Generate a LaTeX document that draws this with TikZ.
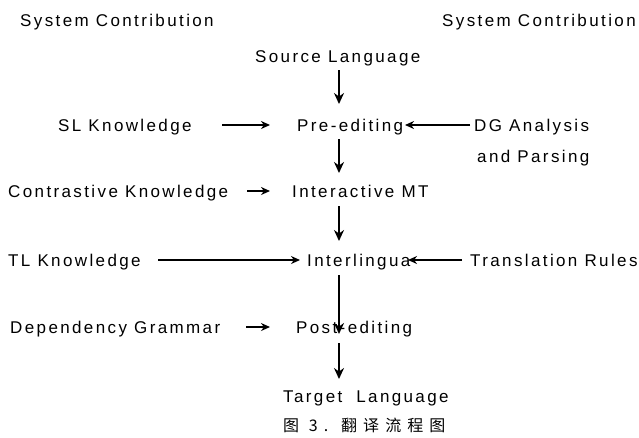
\documentclass[tikz,border=0pt]{standalone}
\usepackage{fontspec}
\setmainfont{Liberation Sans}[LetterSpace=14]
\newfontfamily\cjk{Noto Sans CJK SC}[LetterSpace=38]
\usetikzlibrary{arrows.meta}
\begin{document}
\begin{tikzpicture}[x=1pt, y=-1pt, font=\fontsize{17}{20}\selectfont, line join=round,
  lbl/.style={inner sep=0pt, anchor=base west},
  arr/.style={line width=1.9pt, -{Stealth[length=9pt,width=8pt]}},
  varr/.style={line width=2.3pt, -{Stealth[length=11pt,width=10pt]}}]
\useasboundingbox (0,0) rectangle (639,437);
\coordinate (spine) at (339,0);
% column headers
\node[lbl] (hl) at (20,26) {System Contribution};
\node[lbl] (hr) at (442,26) {System Contribution};
% main chain
\node[lbl] (src) at (255,62) {Source Language};
\node[lbl] (pre) at (297,131) {Pre-editing};
\node[lbl] (imt) at (292,197) {Interactive MT};
\node[lbl] (il) at (307,266) {Interlingua};
\node[lbl] (post) at (296,333) {Post-editing};
\node[lbl] (tgt) at (283,402) {Target\hspace{14pt}Language};
% knowledge sources
\node[lbl] (slk) at (58,131) {SL Knowledge};
\node[lbl] (ck) at (8,197) {Contrastive Knowledge};
\node[lbl] (tlk) at (8,266) {TL Knowledge};
\node[lbl] (dg) at (10,333) {Dependency Grammar};
\node[lbl] (dga) at (474,131) {DG Analysis};
\node[lbl] (dgp) at (477,162) {and Parsing};
\node[lbl] (tr) at (470,266) {Translation Rules};
% caption
\node[lbl] (cap) at (283,431) {\fontsize{16}{18}\selectfont\cjk 图 3. 翻译流程图};
% vertical flow
\draw[varr] ([yshift=-8pt]spine |- src.base) -- ([yshift=27pt]spine |- pre.base);
\draw[varr] ([yshift=-8pt]spine |- pre.base) -- ([yshift=24pt]spine |- imt.base);
\draw[varr] ([yshift=-9pt]spine |- imt.base) -- ([yshift=25pt]spine |- il.base);
\draw[varr] ([yshift=-9pt]spine |- il.base) -- ([yshift=-1pt]spine |- post.base);
\draw[varr] ([yshift=-10pt]spine |- post.base) -- ([yshift=23pt]spine |- tgt.base);
% side inputs
\draw[arr] ([xshift=164pt,yshift=6pt]slk.base west) -- ([xshift=-27pt,yshift=6pt]pre.base west);
\draw[arr] ([xshift=-4pt,yshift=6pt]dga.base west) -- ([xshift=108pt,yshift=6pt]pre.base west);
\draw[arr] ([xshift=239pt,yshift=6pt]ck.base west) -- ([xshift=-22pt,yshift=6pt]imt.base west);
\draw[arr] ([xshift=150pt,yshift=6pt]tlk.base west) -- ([xshift=-7pt,yshift=6pt]il.base west);
\draw[arr] ([xshift=-8pt,yshift=6pt]tr.base west) -- ([xshift=101pt,yshift=6pt]il.base west);
\draw[arr] ([xshift=236pt,yshift=6pt]dg.base west) -- ([xshift=-26pt,yshift=6pt]post.base west);
\end{tikzpicture}
\end{document}
